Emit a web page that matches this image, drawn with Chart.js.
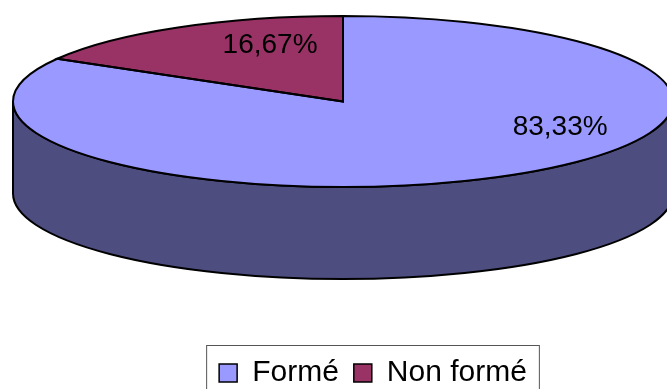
<!DOCTYPE html>
<html>
<head>
<meta charset="utf-8">
<script src="https://cdn.jsdelivr.net/npm/chart.js@4"></script>
<style>
  html, body { margin: 0; padding: 0; background: #fff; }
  #wrap { width: 667px; height: 389px; position: relative; }
</style>
</head>
<body>
<div id="wrap"><canvas id="chart"></canvas></div>
<script>
// --- données ---
const CATEGORIES = ['Formé', 'Non formé'];
const VALUES = [83.33, 16.67];

// --- styles ---
const TOP_COLORS = ['#9999FF', '#993366'];
const SIDE_COLORS = ['#4D4D80', '#4D1A33'];
// position des étiquettes, en fraction des rayons de l'ellipse
const LABEL_SPOTS = [[0.658, 0.30], [-0.221, -0.66]];
// géométrie du camembert 3D (ellipse du dessus + épaisseur)
const PIE = { cx: 343, cy: 101.5, rx: 330, ry: 85.5, depth: 92 };
const FONT = "'Liberation Sans', Arial, sans-serif";

const fmt = v => v.toFixed(2).replace('.', ',') + '%';

const pie3d = {
    id: 'pie3d',
    beforeDatasetsDraw(chart) {
        const ctx = chart.ctx;
        const meta = chart.getDatasetMeta(0);
        const arc0 = meta.data[0];
        const { cx, cy, rx, ry, depth } = PIE;

        // parois latérales (moitié avant seulement)
        ctx.save();
        ctx.lineWidth = 2;
        ctx.strokeStyle = '#000';
        meta.data.forEach((arc, i) => {
            [[-2 * Math.PI, -Math.PI], [0, Math.PI], [2 * Math.PI, 3 * Math.PI]].forEach(([lo, hi]) => {
                const a = Math.max(arc.startAngle, lo);
                const b = Math.min(arc.endAngle, hi);
                if (b <= a) return;
                ctx.beginPath();
                ctx.ellipse(cx, cy, rx, ry, 0, a, b);
                ctx.ellipse(cx, cy + depth, rx, ry, 0, b, a, true);
                ctx.closePath();
                ctx.fillStyle = SIDE_COLORS[i];
                ctx.fill();
                ctx.stroke();
            });
        });
        ctx.restore();

        // écrase le disque de Chart.js en ellipse
        const R = arc0.outerRadius;
        ctx.save();
        ctx.translate(cx, cy);
        ctx.scale(rx / R, ry / R);
        ctx.translate(-arc0.x, -arc0.y);
    },
    afterDatasetsDraw(chart) {
        const ctx = chart.ctx;
        ctx.restore();
        const meta = chart.getDatasetMeta(0);
        const { cx, cy, rx, ry } = PIE;

        ctx.save();
        ctx.lineWidth = 2;
        ctx.strokeStyle = '#000';
        meta.data.forEach(arc => {
            ctx.beginPath();
            ctx.moveTo(cx, cy);
            ctx.ellipse(cx, cy, rx, ry, 0, arc.startAngle, arc.endAngle);
            ctx.closePath();
            ctx.stroke();
        });

        ctx.fillStyle = '#000';
        ctx.font = '28px ' + FONT;
        ctx.textAlign = 'center';
        ctx.textBaseline = 'middle';
        meta.data.forEach((arc, i) => {
            const [fx, fy] = LABEL_SPOTS[i];
            ctx.fillText(fmt(VALUES[i]), cx + fx * rx, cy + fy * ry);
        });
        ctx.restore();
    },
    afterDraw(chart) {
        const boxes = chart.legend.legendHitBoxes;
        if (!boxes.length) return;
        const first = boxes[0], last = boxes[boxes.length - 1];
        const ctx = chart.ctx;
        ctx.save();
        ctx.strokeStyle = '#555';
        ctx.lineWidth = 1;
        const left = first.left - 13;
        const right = last.left + last.width + 12;
        const top = first.top - 13;
        ctx.strokeRect(left + 0.5, top + 0.5, right - left, 80);
        ctx.restore();
    }
};

const baseLabels = Chart.overrides.doughnut.plugins.legend.labels.generateLabels;

new Chart(document.getElementById('chart'), {
    type: 'pie',
    data: {
        labels: CATEGORIES,
        datasets: [{
            data: VALUES,
            backgroundColor: TOP_COLORS,
            borderWidth: 0,
            clip: false
        }]
    },
    options: {
        responsive: true,
        maintainAspectRatio: false,
        animation: false,
        layout: { padding: { left: 79, bottom: -9 } },
        plugins: {
            tooltip: { enabled: false },
            legend: {
                position: 'bottom',
                labels: {
                    color: '#000',
                    font: { family: FONT, size: 30 },
                    boxWidth: 18,
                    boxHeight: 18,
                    padding: 15,
                    generateLabels: chart => baseLabels(chart).map(l => ({ ...l, strokeStyle: '#000', lineWidth: 1.5 }))
                }
            }
        }
    },
    plugins: [pie3d]
});
</script>
</body>
</html>
